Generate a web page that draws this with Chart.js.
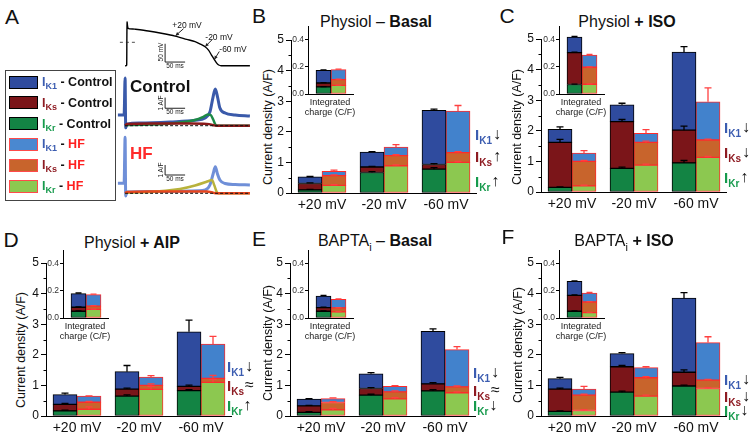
<!DOCTYPE html>
<html lang="en">
<head>
<meta charset="UTF-8" />
<title>Repolarizing K+ currents, Control vs HF</title>
<script src="https://cdn.jsdelivr.net/npm/chart.js"></script>
<style>
  body { margin: 0; background: #fff; }
  #fig { position: relative; width: 754px; height: 438px; overflow: hidden; background: #fff;
         font-family: "Liberation Sans", Arial, Helvetica, sans-serif; color: #111; }
  #fig canvas { position: absolute; }
  .t { position: absolute; white-space: nowrap; line-height: 1; }
  .c { transform: translate(-50%, -50%); }
  .l { transform: translate(0, -50%); }
  .rot { transform: translate(-50%, -50%) rotate(-90deg); }
  .letter { font-size: 21px; }
  .title { font-size: 16px; }
  .ylab { font-size: 12.5px; }
  .ins { font-size: 9px; text-align: center; line-height: 10px; transform: translate(-50%, 0); color: #222; }
  .cur { font-size: 15px; font-weight: bold; }
  .cur sub { font-size: 10px; vertical-align: -4px; line-height: 0; }
  .arr { font-weight: normal; color: #111; font-size: 16px; position: relative; top: -1px; margin-left: 1px; }
  .small { font-size: 6.5px; color: #222; }
  #legend { position: absolute; left: 5px; top: 70px; width: 109px; height: 129px; border: 1px solid #444; }
  .sw { position: absolute; left: 3px; width: 29px; height: 13px; box-sizing: border-box; border: 1.5px solid #000; }
  .leg { position: absolute; left: 36px; font-size: 12.5px; font-weight: bold; white-space: nowrap; line-height: 1; transform: translate(0, -50%); }
  .leg sub { font-size: 9px; vertical-align: -3px; line-height: 0; }
</style>
</head>
<body>
<div id="fig"></div>
<script>
// ---- data ----------------------------------------------------------
const voltages = ['+20 mV', '-20 mV', '-60 mV'];
const currents = ['IKr', 'IKs', 'IK1'];

// main panels: segment heights in A/F, rows = IKr, IKs, IK1, columns = voltages
const basalCtrl    = [[0.10, 0.67, 0.78], [0.21, 0.18, 0.15], [0.22, 0.49, 1.77]];
const basalCtrlErr = [[0.02, 0.03, 0.05], [0.02, 0.02, 0.03], [0.01, 0.01, 0.04]];
const basalHf      = [[0.25, 0.89, 1.00], [0.32, 0.33, 0.32], [0.14, 0.28, 1.36]];
const basalHfErr   = [[0.02, 0.03, 0.03], [0.02, 0.03, 0.03], [0.04, 0.08, 0.18]];

const isoCtrl      = [[0.15, 0.77, 0.95], [1.47, 1.53, 1.07], [0.43, 0.55, 2.55]];
const isoCtrlErr   = [[0.02, 0.04, 0.08], [0.10, 0.07, 0.13], [0.08, 0.05, 0.18]];
const isoHf        = [[0.20, 0.88, 1.13], [0.80, 0.74, 0.57], [0.27, 0.30, 1.25]];
const isoHfErr     = [[0.02, 0.03, 0.03], [0.03, 0.04, 0.03], [0.08, 0.12, 0.45]];

const aipCtrl      = [[0.17, 0.65, 0.83], [0.21, 0.23, 0.14], [0.32, 0.57, 1.78]];
const aipCtrlErr   = [[0.02, 0.04, 0.03], [0.03, 0.03, 0.04], [0.05, 0.20, 0.38]];
const aipHf        = [[0.22, 0.87, 1.10], [0.23, 0.13, 0.13], [0.20, 0.27, 1.12]];
const aipHfErr     = [[0.08, 0.10, 0.10], [0.03, 0.05, 0.10], [0.01, 0.05, 0.25]];

const baptaCtrl    = [[0.12, 0.68, 0.82], [0.21, 0.22, 0.23], [0.22, 0.48, 1.72]];
const baptaCtrlErr = [[0.02, 0.03, 0.04], [0.02, 0.03, 0.04], [0.02, 0.04, 0.08]];
const baptaHf      = [[0.20, 0.56, 0.76], [0.24, 0.23, 0.19], [0.13, 0.18, 1.22]];
const baptaHfErr   = [[0.05, 0.04, 0.03], [0.03, 0.03, 0.03], [0.02, 0.02, 0.10]];

const bIsoCtrl     = [[0.15, 0.78, 0.98], [0.73, 0.83, 0.45], [0.34, 0.43, 2.42]];
const bIsoCtrlErr  = [[0.02, 0.03, 0.03], [0.03, 0.04, 0.08], [0.04, 0.03, 0.18]];
const bIsoHf       = [[0.18, 0.65, 0.90], [0.50, 0.60, 0.27], [0.20, 0.33, 1.23]];
const bIsoHfErr    = [[0.03, 0.03, 0.03], [0.03, 0.04, 0.03], [0.09, 0.03, 0.19]];

// insets: integrated charge (C/F), IKr, IKs, IK1
const basalQCtrl = [0.052, 0.029, 0.093], basalQHf = [0.064, 0.042, 0.073];
const isoQCtrl   = [0.070, 0.235, 0.115], isoQHf   = [0.072, 0.125, 0.090];
const aipQCtrl   = [0.050, 0.029, 0.101], aipQHf   = [0.064, 0.024, 0.084];
const baptaQCtrl = [0.050, 0.026, 0.086], baptaQHf = [0.045, 0.029, 0.063];
const bIsoQCtrl  = [0.050, 0.117, 0.103], bIsoQHf  = [0.040, 0.078, 0.066];
const qErr = [0.002, 0.003, 0.004];

// change arrows (IK1, IKs, IKr)
const basalArrows = ['\u2193', '\u2191', '\u2191'];
const isoArrows   = ['\u2193', '\u2193', '\u2191'];
const aipArrows   = ['\u2193', '\u2248', '\u2191'];
const baptaArrows = ['\u2193', '\u2248', '\u2193'];
const bIsoArrows  = ['\u2193', '\u2193', '\u2193'];

// panel A: action potential (ms, mV)
const apTime = [-4, -1, 0, 1, 4, 20, 54, 90, 121, 150, 171, 186, 196, 205, 212, 219, 225, 230, 236, 308];
const apVolt = [-64, -64, -62, 55, 38, 36, 31, 24, 17, 8, 1.6, -6, -12, -22, -35, -47, -57, -62, -64, -64];

// panel A: currents (ms, A/F)
const ctrlK1T = [-22, -6.5, -4, -2.5, 1, 33, 108, 171, 196, 208, 216, 221.5, 227, 233, 246, 271, 308];
const ctrlK1I = [1.0, 1.0, 4.46, -0.2, 0.15, 0.25, 0.35, 0.5, 0.72, 1.28, 2.7, 3.43, 2.7, 1.65, 1.19, 1.0, 0.9];
const ctrlKrT = [-4, 1, 58, 133, 171, 190, 203, 210, 216, 221, 226, 308];
const ctrlKrI = [0, 0.07, 0.1, 0.3, 0.53, 0.8, 1.05, 1.0, 0.6, 0.15, 0, 0];
const ctrlKsT = [-4, 1, 60, 160, 200, 212, 218, 226, 308];
const ctrlKsI = [0, 0.15, 0.2, 0.2, 0.17, 0.1, 0.03, 0, 0];

const hfK1T = [-22, -6.5, -4, -2.5, 1, 58, 158, 196, 208, 216, 221.5, 227, 233, 246, 271, 308];
const hfK1I = [1.0, 1.0, 5.6, -0.27, 0.13, 0.18, 0.23, 0.33, 0.83, 1.93, 2.66, 1.93, 1.33, 0.98, 0.88, 0.83];
const hfKrT = [-4, 1, 58, 133, 171, 196, 208, 213, 219, 225, 229, 308];
const hfKrI = [0, 0.05, 0.13, 0.43, 0.78, 1.1, 1.28, 1.33, 0.8, 0.15, 0, 0];
const hfKsT = [-4, 1, 58, 200, 213, 219, 226, 308];
const hfKsI = [0, 0.13, 0.18, 0.18, 0.1, 0.03, 0, 0];

// ---- styles --------------------------------------------------------
const ctrlFill = ['#138444', '#7b1519', '#2f4b9e'];
const hfFill   = ['#8cc850', '#c8642c', '#4282cc'];
const labelColor = { K1: '#3b5cb0', Ks: '#8e1b22', Kr: '#169a4c' };

Chart.defaults.font.family = '"Liberation Sans", Arial, Helvetica, sans-serif';
Chart.defaults.color = '#111';
Chart.defaults.animation = false;

const fig = document.getElementById('fig');

function makeCanvas(left, top, w, h) {
  const c = document.createElement('canvas');
  c.width = w; c.height = h;
  c.style.left = left + 'px'; c.style.top = top + 'px';
  c.style.width = w + 'px'; c.style.height = h + 'px';
  fig.appendChild(c);
  return c;
}

function txt(html, x, y, cls, style) {
  const d = document.createElement('div');
  d.className = 't ' + cls;
  d.innerHTML = html;
  d.style.left = x + 'px'; d.style.top = y + 'px';
  if (style) d.style.cssText += style;
  fig.appendChild(d);
  return d;
}

// error bars on top of each stacked segment
const errorBars = {
  id: 'errorBars',
  afterDatasetsDraw(chart) {
    const ctx = chart.ctx, y = chart.scales.y;
    chart.data.datasets.forEach((ds, i) => {
      if (!ds.errs) return;
      chart.getDatasetMeta(i).data.forEach((bar, j) => {
        const len = y.getPixelForValue(0) - y.getPixelForValue(ds.errs[j]);
        const half = ds.capHalf;
        ctx.save();
        ctx.strokeStyle = ds.errColor;
        ctx.lineWidth = 1.3;
        ctx.beginPath();
        ctx.moveTo(bar.x, bar.y);
        ctx.lineTo(bar.x, bar.y - len);
        ctx.moveTo(bar.x - half, bar.y - len);
        ctx.lineTo(bar.x + half, bar.y - len);
        ctx.stroke();
        ctx.restore();
      });
    });
  }
};

// minor ticks at the half units of the main y axis
const minorTicks = {
  id: 'minorTicks',
  afterDraw(chart) {
    const ctx = chart.ctx, y = chart.scales.y, x0 = chart.chartArea.left;
    ctx.save();
    ctx.strokeStyle = '#000';
    ctx.lineWidth = 1;
    for (let v = 0.5; v < 5; v += 1) {
      const py = Math.round(y.getPixelForValue(v)) + 0.5;
      ctx.beginPath(); ctx.moveTo(x0 - 2.5, py); ctx.lineTo(x0, py); ctx.stroke();
    }
    ctx.restore();
  }
};

function stackSets(ctrl, ctrlErr, hf, hfErr, thick, cap) {
  const sets = [];
  currents.forEach((name, k) => sets.push({
    label: name + ' - Control', data: ctrl[k], errs: ctrlErr[k], errColor: '#000', capHalf: cap,
    backgroundColor: ctrlFill[k], borderColor: '#000', borderWidth: 1, borderSkipped: false,
    stack: 'ctrl', barThickness: thick
  }));
  currents.forEach((name, k) => sets.push({
    label: name + ' - HF', data: hf[k], errs: hfErr[k], errColor: '#ff4040', capHalf: cap,
    backgroundColor: hfFill[k], borderColor: '#ff2b2b', borderWidth: 1, borderSkipped: false,
    stack: 'hf', barThickness: thick
  }));
  return sets;
}

function mainChart(box, ctrl, ctrlErr, hf, hfErr) {
  const yW = 30, xH = 26, padTop = 10, plotW = 186;
  const plotH = Math.round(box.y0 - box.yTop);
  const cv = makeCanvas(Math.round(box.x) - yW, Math.round(box.yTop) - padTop, yW + plotW, padTop + plotH + xH);
  return new Chart(cv, {
    type: 'bar',
    data: { labels: voltages, datasets: stackSets(ctrl, ctrlErr, hf, hfErr, 24, 3.5) },
    options: {
      responsive: false,
      animation: false,
      layout: { padding: { top: padTop, left: 0, right: 0, bottom: 0 } },
      plugins: { legend: { display: false }, tooltip: { enabled: false } },
      scales: {
        x: {
          stacked: true,
          grid: { display: false, drawTicks: false },
          border: { color: '#000', width: 1 },
          ticks: { font: { size: 14 }, color: '#111', padding: 4 },
          afterFit: s => { s.height = xH; }
        },
        y: {
          stacked: true, min: 0, max: 5,
          ticks: { stepSize: 1, font: { size: 12 }, color: '#111', padding: 2 },
          grid: { drawOnChartArea: false, tickLength: 5, color: '#000' },
          border: { color: '#000', width: 1 },
          afterFit: s => { s.width = yW; }
        }
      }
    },
    plugins: [errorBars, minorTicks]
  });
}

function insetChart(box, qCtrl, qHf) {
  const yW = 20, plotW = 46, padTop = 6, xH = 8;
  const perUnit = (box.y0 - box.y04) / 0.4;
  const yTop = box.y0 - 0.5 * perUnit;
  const plotH = Math.round(box.y0 - yTop);
  const cv = makeCanvas(Math.round(box.x) - yW, Math.round(yTop) - padTop, yW + plotW, padTop + plotH + xH);
  const ctrl = qCtrl.map(v => [v]), hf = qHf.map(v => [v]);
  const err = qErr.map(v => [v]);
  new Chart(cv, {
    type: 'bar',
    data: { labels: [''], datasets: stackSets(ctrl, err, hf, err, 15, 3) },
    options: {
      responsive: false,
      animation: false,
      layout: { padding: { top: padTop, left: 0, right: 0, bottom: 0 } },
      plugins: { legend: { display: false }, tooltip: { enabled: false } },
      scales: {
        x: {
          stacked: true,
          grid: { display: false, drawTicks: false },
          ticks: { display: false },
          border: { color: '#000', width: 1 },
          afterFit: s => { s.height = xH; }
        },
        y: {
          stacked: true, min: 0, max: 0.5,
          ticks: { stepSize: 0.2, includeBounds: false, callback: v => v.toFixed(1),
                   font: { size: 8.5 }, color: '#333', padding: 1 },
          grid: { drawOnChartArea: false, tickLength: 3, color: '#000' },
          border: { color: '#000', width: 1 },
          afterFit: s => { s.width = yW; }
        }
      }
    },
    plugins: [errorBars]
  });
  txt('Integrated<br>charge (C/F)', Math.round(box.x) + 22, Math.round(box.y0) + 3, 'ins');
}

function sideLabels(x, ys, arrows) {
  [['K1', 0], ['Ks', 1], ['Kr', 2]].forEach(([sub, k]) => {
    txt('<span style="color:' + labelColor[sub] + '">I<sub>' + sub + '</sub></span><span class="arr">' + arrows[k] + '</span>',
        x, ys[k], 'cur l');
  });
}

function panel(p) {
  txt(p.letter, p.letterPos[0], p.letterPos[1], 'letter c');
  txt(p.title, p.titlePos[0], p.titlePos[1], 'title c');
  txt('Current density (A/F)', p.ylabPos[0], p.ylabPos[1], 'ylab rot');
  mainChart(p.main, p.ctrl, p.ctrlErr, p.hf, p.hfErr);
  insetChart(p.inset, p.qCtrl, p.qHf);
  sideLabels(p.side[0], p.side[1], p.arrows);
}

panel({ letter: 'B', letterPos: [259, 15], title: 'Physiol \u2013 <b>Basal</b>', titlePos: [376, 22],
        ylabPos: [268, 127], main: { x: 291, y0: 192.5, yTop: 39.5 }, inset: { x: 308, y0: 94.3, y04: 40 },
        ctrl: basalCtrl, ctrlErr: basalCtrlErr, hf: basalHf, hfErr: basalHfErr,
        qCtrl: basalQCtrl, qHf: basalQHf, side: [475, [135, 157, 182]], arrows: basalArrows });
panel({ letter: 'C', letterPos: [507, 15], title: 'Physiol <b>+ ISO</b>', titlePos: [627, 22],
        ylabPos: [517, 127], main: { x: 541, y0: 192.7, yTop: 39.3 }, inset: { x: 559, y0: 94, y04: 39.3 },
        ctrl: isoCtrl, ctrlErr: isoCtrlErr, hf: isoHf, hfErr: isoHfErr,
        qCtrl: isoQCtrl, qHf: isoQHf, side: [724, [128, 153, 178]], arrows: isoArrows });
panel({ letter: 'D', letterPos: [11, 239], title: 'Physiol <b>+ AIP</b>', titlePos: [132, 243],
        ylabPos: [21, 350], main: { x: 46, y0: 416, yTop: 262.7 }, inset: { x: 63, y0: 317.7, y04: 263.3 },
        ctrl: aipCtrl, ctrlErr: aipCtrlErr, hf: aipHf, hfErr: aipHfErr,
        qCtrl: aipQCtrl, qHf: aipQHf, side: [227, [367, 386, 406]], arrows: aipArrows });
panel({ letter: 'E', letterPos: [259, 238], title: 'BAPTA<sub style="font-size:11px">i</sub> \u2013 <b>Basal</b>', titlePos: [375, 243],
        ylabPos: [268, 343], main: { x: 290, y0: 416, yTop: 263.3 }, inset: { x: 308, y0: 317.7, y04: 263.3 },
        ctrl: baptaCtrl, ctrlErr: baptaCtrlErr, hf: baptaHf, hfErr: baptaHfErr,
        qCtrl: baptaQCtrl, qHf: baptaQHf, side: [473, [373, 391, 406]], arrows: baptaArrows });
panel({ letter: 'F', letterPos: [508, 236], title: 'BAPTA<sub style="font-size:11px">i</sub> <b>+ ISO</b>', titlePos: [624, 243],
        ylabPos: [518, 345], main: { x: 541, y0: 416.5, yTop: 263.3 }, inset: { x: 559, y0: 318.3, y04: 264 },
        ctrl: bIsoCtrl, ctrlErr: bIsoCtrlErr, hf: bIsoHf, hfErr: bIsoHfErr,
        qCtrl: bIsoQCtrl, qHf: bIsoQHf, side: [724, [380, 397, 411]], arrows: bIsoArrows });

// ---- panel A -------------------------------------------------------
txt('A', 12, 16, 'letter c');

const legendRows = [
  ['K1', 'Control', ctrlFill[2], '#000'], ['Ks', 'Control', ctrlFill[1], '#000'], ['Kr', 'Control', ctrlFill[0], '#000'],
  ['K1', 'HF', '#4a88d0', '#ff4a4a'], ['Ks', 'HF', hfFill[1], '#ff4a4a'], ['Kr', 'HF', hfFill[0], '#ff4a4a']
];
const legend = document.createElement('div');
legend.id = 'legend';
legendRows.forEach(([sub, grp, fill, edge], i) => {
  const cy = 11 + i * 20.8;
  const sw = document.createElement('div');
  sw.className = 'sw';
  sw.style.top = (cy - 6.5) + 'px';
  sw.style.background = fill;
  sw.style.borderColor = edge;
  legend.appendChild(sw);
  const lab = document.createElement('div');
  lab.className = 'leg';
  lab.style.top = cy + 'px';
  lab.innerHTML = '<span style="color:' + labelColor[sub] + '">I<sub>' + sub + '</sub></span> - ' +
    '<span style="color:' + (grp === 'HF' ? '#ff2020' : '#111') + '">' + grp + '</span>';
  legend.appendChild(lab);
});
fig.appendChild(legend);

const pts = (t, v) => t.map((x, i) => ({ x: x, y: v[i] }));

// scale bars and arrows drawn through the chart scales
const traceMarks = {
  id: 'traceMarks',
  afterDatasetsDraw(chart, args, opts) {
    const ctx = chart.ctx, sx = chart.scales.x, sy = chart.scales.y;
    ctx.save();
    ctx.strokeStyle = '#222';
    ctx.fillStyle = '#222';
    ctx.lineWidth = 1;
    if (opts.bar) {
      const b = opts.bar;
      const x0 = sx.getPixelForValue(b.x), y0 = sy.getPixelForValue(b.y);
      ctx.beginPath();
      ctx.moveTo(x0, sy.getPixelForValue(b.y + b.dy));
      ctx.lineTo(x0, y0);
      ctx.lineTo(sx.getPixelForValue(b.x + b.dx), y0);
      ctx.stroke();
    }
    (opts.arrows || []).forEach(a => {
      const tx = sx.getPixelForValue(a.t), ty = sy.getPixelForValue(a.v);
      const fx = tx + a.dx, fy = ty + a.dy;
      const ang = Math.atan2(ty - fy, tx - fx);
      ctx.beginPath(); ctx.moveTo(fx, fy); ctx.lineTo(tx, ty); ctx.stroke();
      ctx.beginPath();
      ctx.moveTo(tx, ty);
      ctx.lineTo(tx - 4 * Math.cos(ang - 0.45), ty - 4 * Math.sin(ang - 0.45));
      ctx.lineTo(tx - 4 * Math.cos(ang + 0.45), ty - 4 * Math.sin(ang + 0.45));
      ctx.closePath(); ctx.fill();
    });
    ctx.restore();
  }
};

function traceChart(canvas, datasets, xr, yr, marks) {
  new Chart(canvas, {
    type: 'line',
    data: { datasets: datasets },
    options: {
      responsive: false,
      animation: false,
      layout: { padding: 0 },
      elements: { point: { radius: 0 }, line: { cubicInterpolationMode: 'monotone' } },
      plugins: { legend: { display: false }, tooltip: { enabled: false }, traceMarks: marks },
      scales: {
        x: { type: 'linear', display: false, min: xr[0], max: xr[1] },
        y: { type: 'linear', display: false, min: yr[0], max: yr[1] }
      }
    },
    plugins: [traceMarks]
  });
}

const tRange = [-29.25, 308.25];
const zeroLine = (tStart) => ({ data: [{ x: tStart, y: 0 }, { x: 308, y: 0 }], borderColor: '#111', borderWidth: 1, borderDash: [3, 2] });

traceChart(makeCanvas(115, 0, 135, 70), [
  { data: [{ x: -17, y: 0 }, { x: 25, y: 0 }], borderColor: '#222', borderWidth: 0.8, borderDash: [3, 3] },
  { data: pts(apTime, apVolt), borderColor: '#000', borderWidth: 1.4, cubicInterpolationMode: 'default', tension: 0.25 }
], tRange, [-75.7, 115.6], {
  bar: { x: 96, y: -54, dx: 50, dy: 50 },
  arrows: [{ t: 122, v: 18, dx: 8, dy: -7 }, { t: 196, v: -12, dx: 7, dy: -7 }, { t: 219, v: -47, dx: 5, dy: -8 }]
});
txt('+20 mV', 187, 25, 'c', 'font-size:8.5px');
txt('-20 mV', 219, 36.5, 'c', 'font-size:8.5px');
txt('-60 mV', 233, 49, 'c', 'font-size:8.5px');
txt('50 mV', 161, 52, 'small rot');
txt('50 ms', 175, 65.5, 'small c');

traceChart(makeCanvas(115, 72, 135, 63), [
  zeroLine(-4),
  { data: pts(ctrlKsT, ctrlKsI), borderColor: '#8b1a1a', borderWidth: 2.5 },
  { data: pts(ctrlKrT, ctrlKrI), borderColor: '#1d8a46', borderWidth: 2.5 },
  { data: pts(ctrlK1T, ctrlK1I), borderColor: '#3a5aaa', borderWidth: 3 }
], tRange, [-0.87, 5.02], { bar: { x: 96, y: 1.63, dx: 50, dy: 1 } });
txt('Control', 130, 86, 'l', 'font-size:17px;font-weight:bold');
txt('1 A/F', 161, 103, 'small rot');
txt('50 ms', 175, 112, 'small c');

traceChart(makeCanvas(115, 135, 135, 65), [
  zeroLine(-4),
  { data: pts(hfKsT, hfKsI), borderColor: '#e8461e', borderWidth: 2.5 },
  { data: pts(hfKrT, hfKrI), borderColor: '#b8b23c', borderWidth: 2.5 },
  { data: pts(hfK1T, hfK1I), borderColor: '#6f8fd8', borderWidth: 3 }
], tRange, [-0.67, 5.83], { bar: { x: 96, y: 1.83, dx: 50, dy: 1 } });
txt('HF', 130, 153, 'l', 'font-size:17px;font-weight:bold;color:#ff2a2a');
txt('1 A/F', 161, 170, 'small rot');
txt('50 ms', 175, 179, 'small c');
</script>
</body>
</html>
